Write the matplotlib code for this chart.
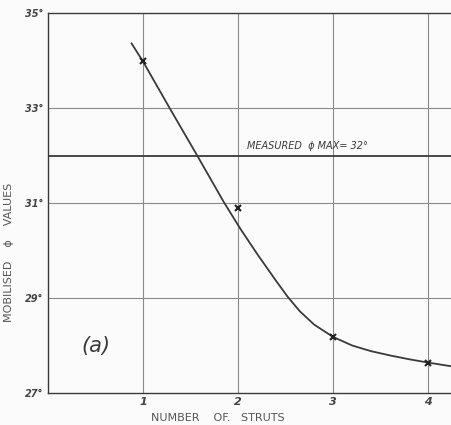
import matplotlib.pyplot as plt

# curve
curve_x = [0.88, 1.0, 1.28, 1.57, 1.85, 2.02, 2.2, 2.4, 2.52, 2.65, 2.8, 3.0,
           3.2, 3.4, 3.6, 3.8, 4.0, 4.25]
curve_y = [34.36, 33.98, 33.0, 32.0, 31.02, 30.47, 29.93, 29.36, 29.03, 28.72,
           28.44, 28.18, 28.0, 27.88, 27.79, 27.71, 27.64, 27.56]

# plotted observations
struts = [1, 2, 3, 4]
phi_values = [34.0, 30.9, 28.18, 27.63]

measured_phi = 32
yticks = [27, 29, 31, 33, 35]
ytick_labels = ['27°', '29°', '31°', '33°', '35°']

ink = '#3a3a3a'
grid = '#8a8a8a'

fig = plt.figure(figsize=(4.52, 4.25), dpi=100)
fig.patch.set_facecolor('#fbfbfb')
ax = fig.add_axes([0.106, 0.0753, 0.894, 0.894])
ax.set_facecolor('#fbfbfb')

ax.set_xlim(0, 4.25)
ax.set_ylim(27, 35)

for x in struts:
    ax.axvline(x, color=grid, lw=0.8, zorder=1)
for y in yticks[1:-1]:
    ax.axhline(y, color=grid, lw=0.8, zorder=1)
ax.axhline(measured_phi, color=ink, lw=1.3, zorder=2)

ax.plot(curve_x, curve_y, color=ink, lw=1.3, zorder=3)
ax.plot(struts, phi_values, linestyle='none', marker='x', ms=4, mew=1.5,
        color='#222222', zorder=4)

ax.text(2.09, measured_phi + 0.1, 'MEASURED  ɸ MAX= 32°', fontsize=7,
        color=ink, ha='left', va='bottom', style='italic')
ax.text(0.5, 28.0, '(a)', fontsize=15, color=ink, ha='center', va='center',
        style='italic')

ax.spines['right'].set_visible(False)
for side in ['left', 'bottom', 'top']:
    ax.spines[side].set_color(ink)
    ax.spines[side].set_linewidth(1.0)

ax.set_xticks(struts)
ax.set_xticklabels([str(s) for s in struts], fontsize=8, style='italic',
                   weight='bold', color='#444444')
ax.set_yticks(yticks)
ax.set_yticklabels(ytick_labels, fontsize=7, style='italic', weight='bold',
                   color='#444444')
ax.tick_params(length=0, pad=3)

ax.set_xlabel('NUMBER    OF.   STRUTS', fontsize=8, color='#555555')
ax.xaxis.set_label_coords(0.42, -0.052)
ax.set_ylabel('MOBILISED    ɸ    VALUES', fontsize=8, color='#555555')
ax.yaxis.set_label_coords(-0.085, 0.37)

fig.savefig('out.png', dpi=100, facecolor=fig.get_facecolor())
